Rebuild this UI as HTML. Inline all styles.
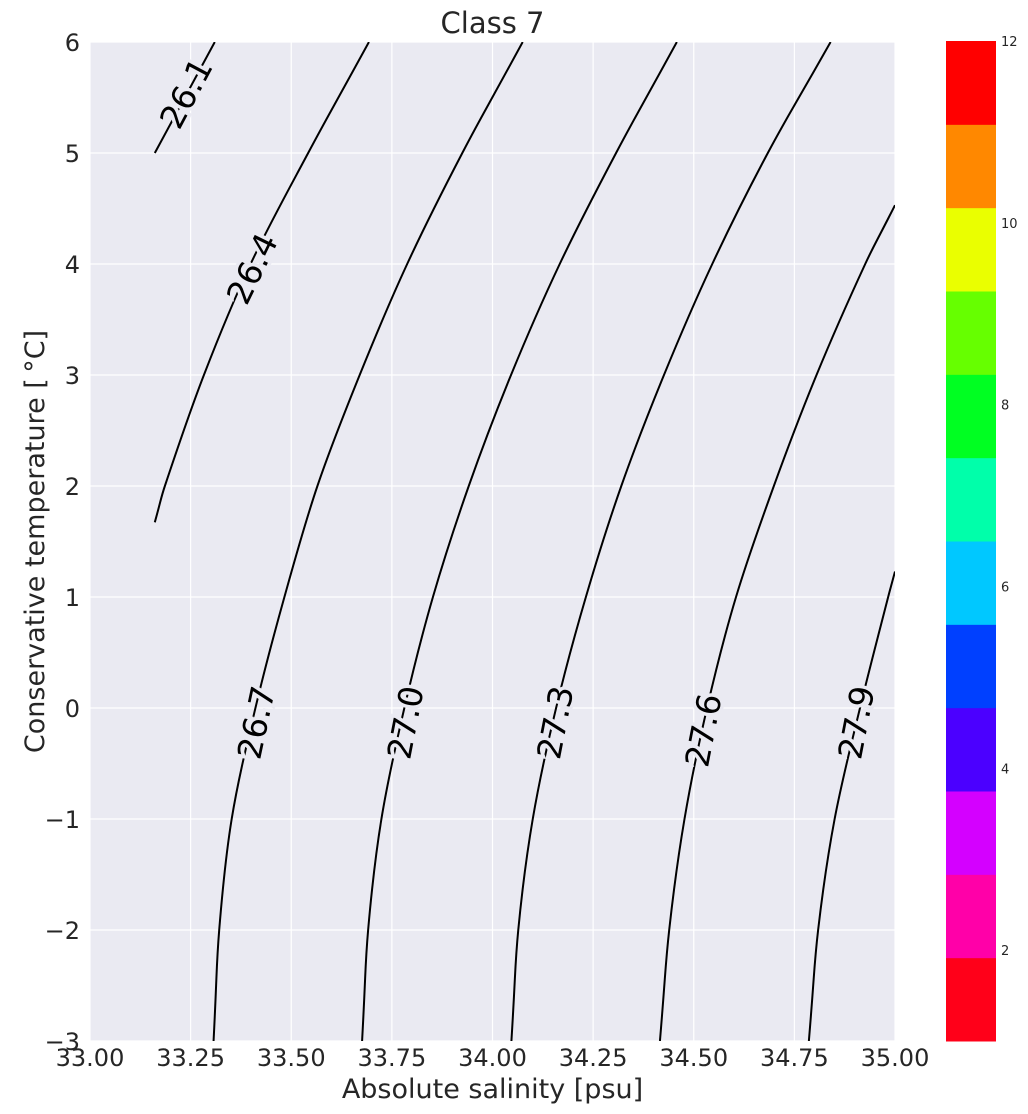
<!DOCTYPE html>
<html><head><meta charset="utf-8"><style>
html,body{margin:0;padding:0;background:#fff;width:1028px;height:1114px;overflow:hidden}
svg{display:block;font-family:"DejaVu Sans","Liberation Sans",sans-serif}
</style></head><body>
<svg id="chart" width="1028" height="1114"></svg>
<script>
// ---- data ----
const xTicks = [33.00, 33.25, 33.50, 33.75, 34.00, 34.25, 34.50, 34.75, 35.00];
const yTicks = [-3, -2, -1, 0, 1, 2, 3, 4, 5, 6];
const contourLevels = ["26.1", "26.4", "26.7", "27.0", "27.3", "27.6", "27.9"];
const contourT = [
  [5, 6],
  [1.673, 2, 3, 4, 5, 6],
  [-3, -2, -1, 0, 1, 2, 3, 4, 5, 6],
  [-3, -2, -1, 0, 1, 2, 3, 4, 5, 6],
  [-3, -2, -1, 0, 1, 2, 3, 4, 5, 6],
  [-3, -2, -1, 0, 1, 2, 3, 4, 4.53],
  [-3, -2, -1, 0, 1, 1.23]
];
const contourS = [
  [33.161, 33.310],
  [33.161, 33.186, 33.283, 33.399, 33.542, 33.693],
  [33.307, 33.321, 33.352, 33.411, 33.483, 33.565, 33.670, 33.788, 33.925, 34.075],
  [33.676, 33.691, 33.724, 33.781, 33.852, 33.941, 34.046, 34.167, 34.307, 34.458],
  [34.047, 34.064, 34.100, 34.158, 34.232, 34.320, 34.426, 34.546, 34.684, 34.840],
  [34.416, 34.439, 34.477, 34.533, 34.605, 34.699, 34.805, 34.926, 35.000],
  [34.786, 34.809, 34.850, 34.913, 34.983, 35.000]
];
const labelS = [33.238, 33.402, 33.412, 33.783, 34.155, 34.523, 34.903];
const labelT = [5.54, 3.96, -0.13, -0.13, -0.13, -0.2, -0.13];
const labelAngle = [-62, -64, -78, -79, -79, -79, -79];
const cbarColors = ["#ff0019","#ff00a8","#d400ff","#4b00ff","#0040ff","#00c8ff","#00ffaa","#00ff22","#66ff00","#eaff00","#ff8800","#ff0000"];
const cbarTicks = [2, 4, 6, 8, 10, 12];

// ---- layout ----
const L = 90, R = 895, T = 42, B = 1041;
const xS = s => L + (s - 33) / 2 * (R - L);
const yT = t => B - (t + 3) / 9 * (B - T);
const svg = document.getElementById('chart');
const NS = 'http://www.w3.org/2000/svg';
function mk(tag, attrs, parent) {
  const e = document.createElementNS(NS, tag);
  for (const k in attrs) e.setAttribute(k, attrs[k]);
  (parent || svg).appendChild(e);
  return e;
}
const bg = mk('rect', {x: L, y: T, width: R - L, height: B - T, fill: '#eaeaf2'});



xTicks.forEach(v => {
  const g = mk('line', {x1: xS(v), x2: xS(v), y1: T, y2: B, stroke: '#fff', 'stroke-width': 1.2});
  
  
  const t = mk('text', {x: xS(v), y: 1066, 'font-size': 24, fill: '#262626', 'text-anchor': 'middle'});
  t.textContent = v.toFixed(2);
  
  
});
yTicks.forEach(v => {
  const g = mk('line', {x1: L, x2: R, y1: yT(v), y2: yT(v), stroke: '#fff', 'stroke-width': 1.2});
  
  
  const t = mk('text', {x: 80, y: yT(v) + 9, 'font-size': 24, fill: '#262626', 'text-anchor': 'end'});
  t.textContent = v < 0 ? '\u2212' + Math.abs(v) : String(v);
  
  
});

const clip = mk('clipPath', {id: 'pc'});
mk('rect', {x: L, y: T, width: R - L, height: B - T}, clip);

const dist = (a, b) => Math.hypot(a[0] - b[0], a[1] - b[1]) || 1;
contourLevels.forEach((lev, i) => {
  const pts = contourT[i].map((t, j) => [xS(contourS[i][j]), yT(t)]);
  let d = 'M' + pts[0][0] + ',' + pts[0][1];
  for (let j = 1; j < pts.length; j++) {
    const p0 = pts[Math.max(0, j - 2)], p1 = pts[j - 1], p2 = pts[j], p3 = pts[Math.min(pts.length - 1, j + 1)];
    const seg = dist(p1, p2);
    const k1 = seg / (dist(p0, p1) + seg) / 3 * (p0 === p1 ? 2 : 1);
    const k2 = seg / (dist(p2, p3) + seg) / 3 * (p2 === p3 ? 2 : 1);
    const c1 = [p1[0] + (p2[0] - p0[0]) * k1, p1[1] + (p2[1] - p0[1]) * k1];
    const c2 = [p2[0] - (p3[0] - p1[0]) * k2, p2[1] - (p3[1] - p1[1]) * k2];
    d += ' C' + c1 + ' ' + c2 + ' ' + p2;
  }
  const p = mk('path', {d: d, fill: 'none', stroke: '#000', 'stroke-width': 2, 'clip-path': 'url(#pc)'});
  
  
  const lx = xS(labelS[i]), ly = yT(labelT[i]);
  const t = mk('text', {x: lx, y: ly + 12, 'font-size': 33, fill: '#000', 'text-anchor': 'middle',
    stroke: '#eaeaf2', 'stroke-width': 7, 'paint-order': 'stroke',
    transform: 'rotate(' + labelAngle[i] + ' ' + lx + ' ' + ly + ')'});
  t.textContent = lev;
  
  
});

// colorbar
const cT = 41, cB = 1041, cL = 946, cW = 50;
const cY = v => cB - (v - 1) / 11 * (cB - cT);
const seg = (cB - cT) / cbarColors.length;
cbarColors.forEach((c, i) => {
  const r = mk('rect', {x: cL, y: cB - (i + 1) * seg, width: cW, height: seg + 0.5, fill: c});
  
  
});
cbarTicks.forEach(v => {
  const t = mk('text', {x: 1001, y: cY(v) + 5, 'font-size': 13, fill: '#262626'});
  t.textContent = v;
  
  
});

const title = mk('text', {x: (L + R) / 2, y: 33, 'font-size': 29, fill: '#262626', 'text-anchor': 'middle'});
title.textContent = 'Class 7';


const xl = mk('text', {x: (L + R) / 2, y: 1098, 'font-size': 27, fill: '#262626', 'text-anchor': 'middle'});
xl.textContent = 'Absolute salinity [psu]';


const yl = mk('text', {x: 0, y: 0, 'font-size': 27, fill: '#262626', 'text-anchor': 'middle',
  transform: 'translate(44,' + ((T + B) / 2) + ') rotate(-90)'});
yl.textContent = 'Conservative temperature [\u2009\u00B0C]';


</script>
</body></html>
